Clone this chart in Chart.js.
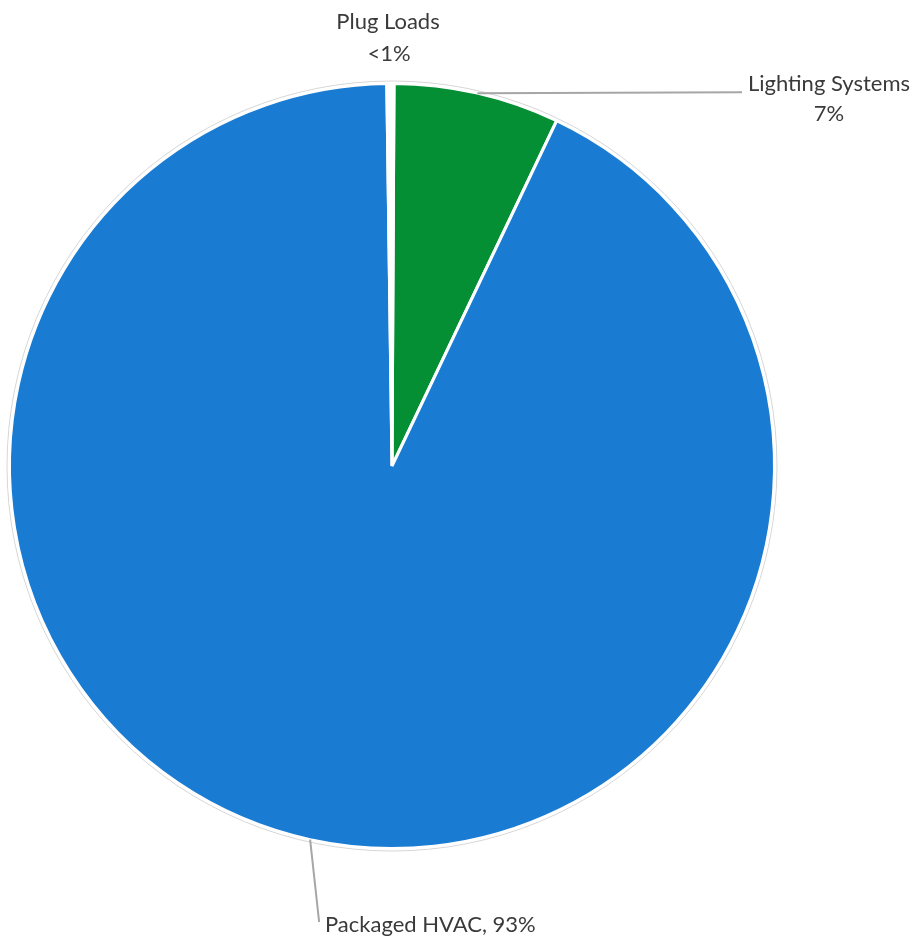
<!DOCTYPE html>
<html>
<head>
<meta charset="utf-8">
<script src="https://cdn.jsdelivr.net/npm/chart.js@4.4.1/dist/chart.umd.min.js"></script>
<style>
  html, body { margin: 0; padding: 0; background: #ffffff; }
  #wrap { position: relative; width: 916px; height: 939px; }
</style>
</head>
<body>
<div id="wrap"><canvas id="c" width="916" height="939"></canvas></div>
<script>
// ---- data ----
const categories = ["Lighting Systems", "Packaged HVAC", "Plug Loads"];
const shares = [7.0, 92.7, 0.3];
const shareLabels = ["7%", "93%", "<1%"];
const sliceColors = ["#048f35", "#197bd2", "#ffffff"];

const FONT = '22px Lato, "Open Sans", sans-serif';
const TEXT = "#3a3a3a";

const labelPlugin = {
  id: "labels",
  beforeDatasetsDraw(chart) {
    const meta = chart.getDatasetMeta(0);
    const a = meta.data[0];
    const ctx = chart.ctx;
    ctx.save();
    ctx.strokeStyle = "#d6d6d6";
    ctx.lineWidth = 1;
    ctx.beginPath();
    ctx.arc(a.x, a.y, a.outerRadius + 2.5, 0, Math.PI * 2);
    ctx.stroke();
    ctx.restore();
  },
  afterDatasetsDraw(chart) {
    const meta = chart.getDatasetMeta(0);
    const ctx = chart.ctx;
    ctx.save();
    ctx.font = FONT;
    ctx.fillStyle = TEXT;
    ctx.textBaseline = "middle";

    const edge = (el) => {
      const mid = (el.startAngle + el.endAngle) / 2;
      return { x: el.x + Math.cos(mid) * el.outerRadius, y: el.y + Math.sin(mid) * el.outerRadius };
    };

    // Lighting Systems
    const l = meta.data[0];
    const pL = edge(l);
    ctx.strokeStyle = "#a6a6a6";
    ctx.lineWidth = 2;
    ctx.beginPath();
    ctx.moveTo(pL.x, pL.y);
    ctx.lineTo(742, pL.y - 1);
    ctx.stroke();
    ctx.textAlign = "center";
    ctx.fillText(categories[0], 829, 84);
    ctx.fillText(shareLabels[0], 829, 114);

    // Packaged HVAC
    const h = meta.data[1];
    const pH = edge(h);
    ctx.beginPath();
    ctx.moveTo(pH.x, pH.y);
    ctx.lineTo(pH.x + 9, 922);
    ctx.stroke();
    ctx.textAlign = "left";
    ctx.fillText(categories[1] + ", " + shareLabels[1], 325, 925);

    // Plug Loads
    ctx.textAlign = "center";
    ctx.fillText(categories[2], 388, 22);
    ctx.fillText(shareLabels[2], 389, 54);
    ctx.restore();
  }
};

new Chart(document.getElementById("c"), {
  type: "pie",
  data: {
    labels: categories,
    datasets: [{
      data: shares,
      backgroundColor: sliceColors,
      borderColor: "#ffffff",
      borderWidth: 3
    }]
  },
  options: {
    responsive: false,
    animation: false,
    rotation: 0.3,
    layout: { padding: { left: 8, right: 140, top: 82, bottom: 89 } },
    plugins: { legend: { display: false }, tooltip: { enabled: false } }
  },
  plugins: [labelPlugin]
});
</script>
</body>
</html>
